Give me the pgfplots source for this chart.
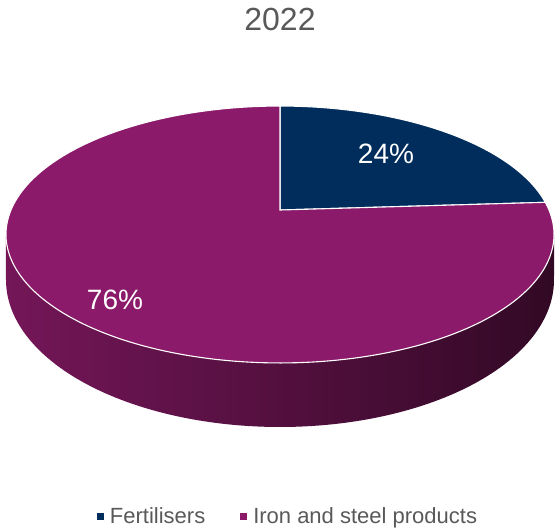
\documentclass[border=0pt]{standalone}
\usepackage{pgfplots}
\pgfplotsset{compat=1.18}
\usepackage{fontspec}
\setmainfont{Liberation Sans}
\definecolor{navy}{RGB}{0,45,92}
\definecolor{magen}{RGB}{139,26,106}
\definecolor{sideL}{RGB}{116,22,88}
\definecolor{sideM}{RGB}{86,17,66}
\definecolor{sideR}{RGB}{50,9,37}
\definecolor{txtgray}{RGB}{89,89,89}
% data (percent shares)
\def\valA{24} % Fertilisers
\def\valB{76} % Iron and steel products
% perspective pie geometry (pixels)
\def\cx{280}\def\cy{210}\def\sx{269}\def\pp{0.1906}\def\cc{123.8}
\pgfmathsetmacro{\aStart}{90}
\pgfmathsetmacro{\aMid}{90-3.6*\valA}
\pgfmathsetmacro{\aEnd}{\aMid-3.6*\valB}
\begin{document}
\begin{tikzpicture}
\begin{axis}[
  scale only axis, width=558pt, height=528pt,
  xmin=0, xmax=558, ymin=0, ymax=528, y dir=reverse,
  hide axis, clip=false,
  legend style={at={(axis cs:288,516)}, anchor=center, draw=none, fill=none,
    legend columns=2, font=\fontsize{22}{24}\selectfont, text=txtgray,
    /tikz/every even column/.append style={column sep=33pt},
    legend cell align=left},
]
% side of the cylinder
\addplot[forget plot, draw=none, left color=sideL, middle color=sideM, right color=sideR,
  domain=180:360, samples=120]
  ({280+274*cos(x)}, {280-147*sin(x)}) -- (axis cs:554.03,234.5) -- (axis cs:5.97,234.5) -- cycle;
% top face slices
\addplot[fill=navy, draw=white, line width=1.1pt, domain=\aStart:\aMid, samples=80,
  legend image code/.code={\path[fill=navy, draw=none] (0pt,-3.5pt) rectangle (7pt,3.5pt); \path[draw=none, fill=none] (0pt,-3.5pt) rectangle (11pt,3.5pt);}]
  ({\cx+\sx*cos(x)/(1+\pp*sin(x))}, {\cy-\cc*sin(x)/(1+\pp*sin(x))}) -- (axis cs:\cx,\cy) -- cycle;
\addlegendentry{Fertilisers}
\addplot[fill=magen, draw=white, line width=1.1pt, domain=\aMid:\aEnd, samples=200,
  legend image code/.code={\path[fill=magen, draw=none] (0pt,-3.5pt) rectangle (7pt,3.5pt); \path[draw=none, fill=none] (0pt,-3.5pt) rectangle (11pt,3.5pt);}]
  ({\cx+\sx*cos(x)/(1+\pp*sin(x))}, {\cy-\cc*sin(x)/(1+\pp*sin(x))}) -- (axis cs:\cx,\cy) -- cycle;
\addlegendentry{Iron and steel products}
% labels
\node[text=white, font=\fontsize{28}{30}\selectfont] at (axis cs:386,154) {24\%};
\node[text=white, font=\fontsize{28}{30}\selectfont] at (axis cs:115,300) {76\%};
\node[text=txtgray, font=\fontsize{32}{36}\selectfont] at (axis cs:280,19) {2022};
\path (axis cs:0,0) rectangle (axis cs:558,528);
\end{axis}
\end{tikzpicture}
\end{document}
